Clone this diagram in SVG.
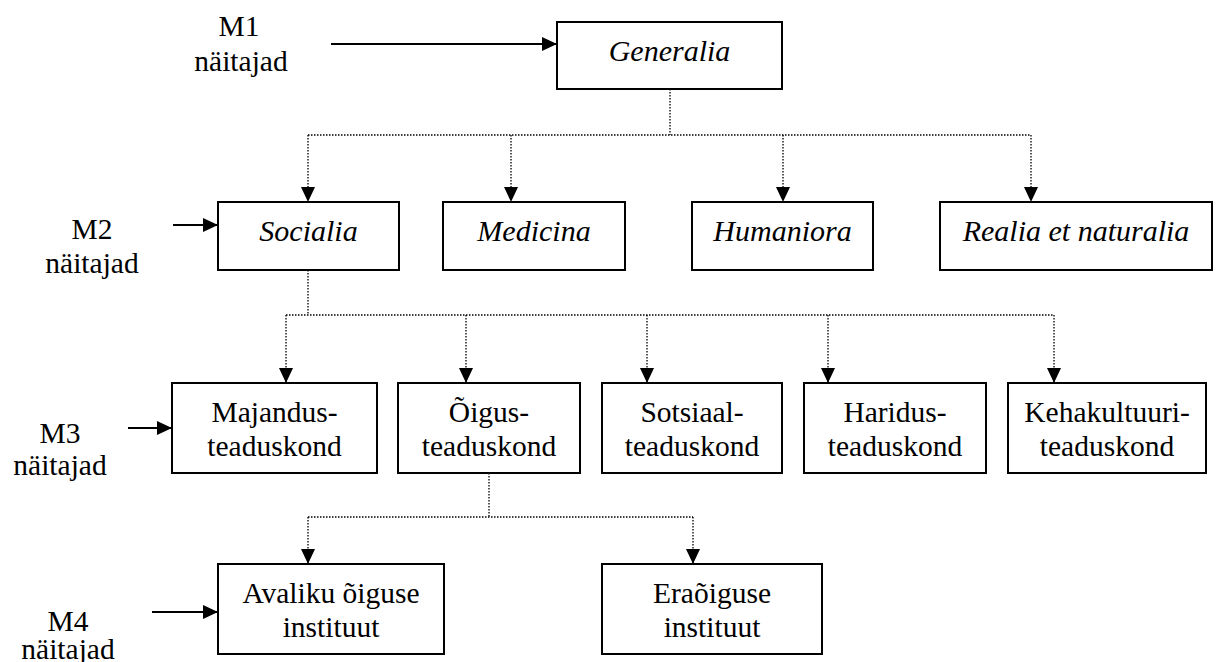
<svg xmlns="http://www.w3.org/2000/svg" width="1227" height="662" viewBox="0 0 1227 662">
  <style>
    .box { fill: #fff; stroke: #000; stroke-width: 2; }
    .solid { fill: none; stroke: #000; stroke-width: 2; }
    .dot { fill: none; stroke: #000; stroke-width: 1.3; stroke-dasharray: 1.5 1.5; }
  </style>
  <defs>
    <marker id="head" markerUnits="userSpaceOnUse" markerWidth="16" markerHeight="14" refX="15" refY="7" orient="auto" viewBox="0 0 16 14">
      <path d="M0,0 L15,7 L0,14 Z" fill="#000"/>
    </marker>
  </defs>

  <g font-family="'Liberation Serif', serif" font-size="29.5" text-anchor="middle" fill="#000">
    <!-- level labels -->
    <g id="label-m1">
      <text x="239" y="36">M1</text>
      <text x="241" y="71">näitajad</text>
    </g>
    <g id="label-m2">
      <text x="92" y="239">M2</text>
      <text x="92" y="273">näitajad</text>
    </g>
    <g id="label-m3">
      <text x="60" y="443">M3</text>
      <text x="60" y="475">näitajad</text>
    </g>
    <g id="label-m4">
      <text x="68" y="631">M4</text>
      <text x="68" y="659">näitajad</text>
    </g>

    <!-- level 1 -->
    <g id="generalia">
      <rect class="box" x="557" y="22" width="225" height="67"/>
      <text x="669.5" y="61" font-style="italic" font-size="30">Generalia</text>
    </g>

    <!-- level 2 -->
    <g id="socialia">
      <rect class="box" x="218" y="202" width="181" height="68"/>
      <text x="308.5" y="241" font-style="italic" font-size="30">Socialia</text>
    </g>
    <g id="medicina">
      <rect class="box" x="443" y="202" width="182" height="68"/>
      <text x="534" y="241" font-style="italic" font-size="30">Medicina</text>
    </g>
    <g id="humaniora">
      <rect class="box" x="692" y="202" width="181" height="68"/>
      <text x="782.5" y="241" font-style="italic" font-size="30">Humaniora</text>
    </g>
    <g id="realia">
      <rect class="box" x="940" y="202" width="272" height="68"/>
      <text x="1076" y="241" font-style="italic" font-size="30">Realia et naturalia</text>
    </g>

    <!-- level 3 -->
    <g id="majandus">
      <rect class="box" x="172" y="383" width="205" height="90"/>
      <text x="274.5" y="422">Majandus-</text>
      <text x="274.5" y="456">teaduskond</text>
    </g>
    <g id="oigus">
      <rect class="box" x="398" y="383" width="182" height="90"/>
      <text x="489" y="422">Õigus-</text>
      <text x="489" y="456">teaduskond</text>
    </g>
    <g id="sotsiaal">
      <rect class="box" x="602" y="383" width="180" height="90"/>
      <text x="692" y="422">Sotsiaal-</text>
      <text x="692" y="456">teaduskond</text>
    </g>
    <g id="haridus">
      <rect class="box" x="804" y="383" width="182" height="90"/>
      <text x="895" y="422">Haridus-</text>
      <text x="895" y="456">teaduskond</text>
    </g>
    <g id="kehakultuur">
      <rect class="box" x="1008" y="383" width="198" height="90"/>
      <text x="1107" y="422">Kehakultuuri-</text>
      <text x="1107" y="456">teaduskond</text>
    </g>

    <!-- level 4 -->
    <g id="avalik">
      <rect class="box" x="218" y="564" width="226" height="90"/>
      <text x="331" y="603">Avaliku õiguse</text>
      <text x="331" y="637">instituut</text>
    </g>
    <g id="eraoigus">
      <rect class="box" x="602" y="564" width="220" height="90"/>
      <text x="712" y="603">Eraõiguse</text>
      <text x="712" y="637">instituut</text>
    </g>
  </g>

  <g id="connectors">
    <!-- level pointers -->
    <path class="solid" d="M331,44 H557" marker-end="url(#head)"/>
    <path class="solid" d="M173,225 H218" marker-end="url(#head)"/>
    <path class="solid" d="M128,428 H172" marker-end="url(#head)"/>
    <path class="solid" d="M152,612 H218" marker-end="url(#head)"/>

    <!-- Generalia to level 2 -->
    <path class="dot" d="M670,89 V135"/>
    <path class="dot" d="M308,135 H1031"/>
    <path class="dot" d="M308,135 V202" marker-end="url(#head)"/>
    <path class="dot" d="M511,135 V202" marker-end="url(#head)"/>
    <path class="dot" d="M783,135 V202" marker-end="url(#head)"/>
    <path class="dot" d="M1031,135 V202" marker-end="url(#head)"/>

    <!-- Socialia to faculties -->
    <path class="dot" d="M308,270 V315"/>
    <path class="dot" d="M286,315 H1054"/>
    <path class="dot" d="M286,315 V383" marker-end="url(#head)"/>
    <path class="dot" d="M466,315 V383" marker-end="url(#head)"/>
    <path class="dot" d="M647,315 V383" marker-end="url(#head)"/>
    <path class="dot" d="M828,315 V383" marker-end="url(#head)"/>
    <path class="dot" d="M1054,315 V383" marker-end="url(#head)"/>

    <!-- Õigusteaduskond to institutes -->
    <path class="dot" d="M489,473 V517"/>
    <path class="dot" d="M308,517 H693"/>
    <path class="dot" d="M308,517 V564" marker-end="url(#head)"/>
    <path class="dot" d="M693,517 V564" marker-end="url(#head)"/>
  </g>
</svg>
